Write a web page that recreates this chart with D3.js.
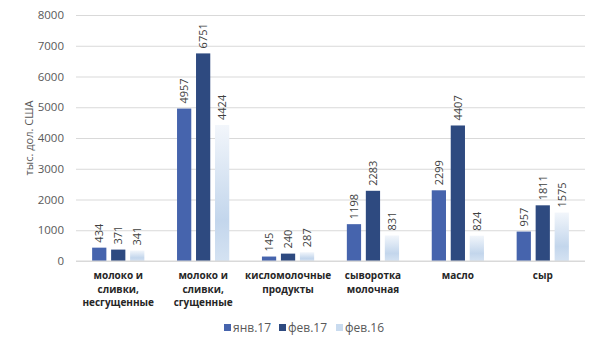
<!DOCTYPE html>
<html lang="ru">

<head>
    <meta charset="utf-8">
    <script src='https://d3js.org/d3.v7.min.js'></script>
    <style>
        body { margin: 0; background: #fff; }
        text { font-family: "Open Sans", "Noto Sans", sans-serif; }
    </style>
</head>

<body>

    <script>

        const categories = [
            ["молоко и", "сливки,", "несгущенные"],
            ["молоко и", "сливки,", "сгущенные"],
            ["кисломолочные", "продукты"],
            ["сыворотка", "молочная"],
            ["масло"],
            ["сыр"]
        ];
        const seriesNames = ["янв.17", "фев.17", "фев.16"];
        const jan17 = [434, 4957, 145, 1198, 2299, 957];
        const feb17 = [371, 6751, 240, 2283, 4407, 1811];
        const feb16 = [341, 4424, 287, 831, 824, 1575];
        const yTicks = [0, 1000, 2000, 3000, 4000, 5000, 6000, 7000, 8000];

        const width = 600;
        const height = 350;
        const margin = { top: 15, right: 15, bottom: 89, left: 76 };

        const svg = d3.select("body")
            .append("svg")
            .attr("width", width)
            .attr("height", height);

        // gradient for the light series
        const defs = svg.append("defs");
        const grad = defs.append("linearGradient")
            .attr("id", "lightGrad")
            .attr("x1", 0).attr("y1", 0).attr("x2", 0).attr("y2", 1);
        grad.append("stop").attr("offset", "0%").attr("stop-color", "#f2f6fb");
        grad.append("stop").attr("offset", "70%").attr("stop-color", "#c3d6ec");
        grad.append("stop").attr("offset", "100%").attr("stop-color", "#d4e2f2");

        const colors = ["#4664ad", "#2e4a80", "url(#lightGrad)"];
        const series = [jan17, feb17, feb16];

        const x = d3.scaleBand()
            .domain(d3.range(categories.length))
            .range([margin.left, width - margin.right])
            .paddingInner(0.385)
            .paddingOuter(0.19);

        const xInner = d3.scaleBand()
            .domain(d3.range(series.length))
            .range([0, x.bandwidth()])
            .paddingInner(0.25);

        const y = d3.scaleLinear()
            .domain([0, 8000])
            .range([height - margin.bottom, margin.top]);

        // gridlines
        const yAxis = d3.axisLeft(y)
            .tickValues(yTicks)
            .tickFormat(d3.format("d"))
            .tickSize(-(width - margin.left - margin.right))
            .tickPadding(12);

        const gy = svg.append("g")
            .attr("transform", "translate(" + margin.left + ",0)")
            .call(yAxis);
        gy.select(".domain").remove();
        gy.selectAll(".tick line").attr("stroke", "#d9d9d9");
        gy.selectAll(".tick text")
            .attr("fill", "#595959")
            .style("font-size", "11.5px");

        // y title
        svg.append("text")
            .attr("transform", "translate(33," + ((margin.top + height - margin.bottom) / 2) + ") rotate(-90)")
            .attr("text-anchor", "middle")
            .attr("fill", "#595959")
            .style("font-size", "11px")
            .text("тыс. дол. США");

        // bars
        series.forEach(function (vals, s) {
            const g = svg.append("g");
            g.selectAll("rect")
                .data(vals)
                .enter()
                .append("rect")
                .attr("x", function (d, i) { return x(i) + xInner(s); })
                .attr("y", function (d) { return y(d); })
                .attr("width", xInner.bandwidth())
                .attr("height", function (d) { return y(0) - y(d); })
                .attr("fill", colors[s]);

            g.selectAll("text")
                .data(vals)
                .enter()
                .append("text")
                .attr("transform", function (d, i) {
                    const cx = x(i) + xInner(s) + xInner.bandwidth() / 2;
                    return "translate(" + (cx + 4) + "," + (y(d) - 5) + ") rotate(-90)";
                })
                .attr("text-anchor", "start")
                .attr("fill", "#404040")
                .style("font-size", "11px")
                .text(function (d) { return d; });
        });

        // baseline
        svg.append("line")
            .attr("x1", margin.left)
            .attr("x2", width - margin.right)
            .attr("y1", y(0))
            .attr("y2", y(0))
            .attr("stroke", "#d9d9d9");

        // category labels
        const labels = svg.append("g");
        categories.forEach(function (lines, i) {
            const t = labels.append("text")
                .attr("x", x(i) + x.bandwidth() / 2)
                .attr("y", y(0) + 18)
                .attr("text-anchor", "middle")
                .attr("fill", "#262626")
                .style("font-size", "10px")
                .style("font-weight", "bold");
            lines.forEach(function (l, k) {
                t.append("tspan")
                    .attr("x", x(i) + x.bandwidth() / 2)
                    .attr("dy", k === 0 ? 0 : 13.5)
                    .text(l);
            });
        });

        // legend
        const legendX = [224, 279, 336];
        const legend = svg.append("g");
        seriesNames.forEach(function (name, s) {
            legend.append("rect")
                .attr("x", legendX[s])
                .attr("y", 324)
                .attr("width", 7)
                .attr("height", 7)
                .attr("fill", s === 2 ? "#c9dbef" : colors[s]);
            legend.append("text")
                .attr("x", legendX[s] + 9)
                .attr("y", 332)
                .attr("fill", "#595959")
                .style("font-size", "12px")
                .text(name);
        });

    </script>

</body>

</html>
